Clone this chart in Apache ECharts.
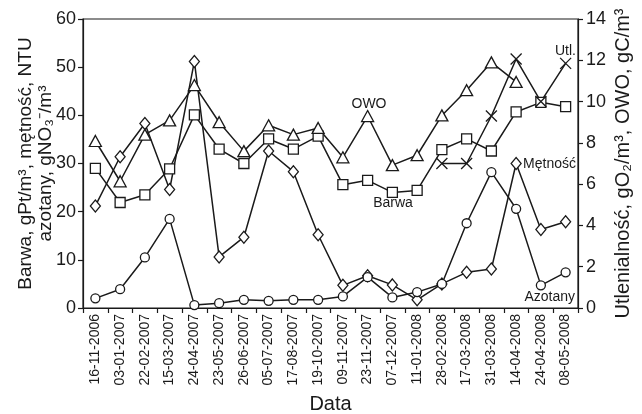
<!DOCTYPE html>
<html>
<head>
<meta charset="utf-8">
<script src="https://cdn.jsdelivr.net/npm/echarts@6/dist/echarts.min.js"></script>
<style>html,body{margin:0;padding:0;background:#fff}#c{width:642px;height:414px}</style>
</head>
<body>
<div id="c"></div>
<script>
var dates = ['16-11-2006','03-01-2007','22-02-2007','15-03-2007','24-04-2007','23-05-2007','26-06-2007','05-07-2007','17-08-2007','19-10-2007','09-11-2007','23-11-2007','07-12-2007','11-01-2008','28-02-2008','17-03-2008','31-03-2008','14-04-2008','24-04-2008','08-05-2008'];
var barwa = [29.0, 21.9, 23.5, 28.9, 40.1, 33.0, 30.0, 35.1, 33.0, 35.7, 25.6, 26.5, 24.0, 24.4, 32.9, 35.1, 32.6, 40.7, 42.7, 41.8];
var metnosc = [21.2, 31.4, 38.3, 24.6, 51.2, 10.6, 14.7, 32.6, 28.3, 15.2, 4.7, 6.7, 4.8, 1.7, 5.0, 7.4, 8.1, 30.0, 16.3, 17.9];
var azotany = [2.0, 3.9, 10.5, 18.5, 0.6, 1.0, 1.7, 1.5, 1.7, 1.7, 2.4, 6.4, 2.2, 3.3, 5.0, 17.6, 28.2, 20.6, 4.7, 7.4];
var owo = [8.09, 6.14, 8.4, 9.09, 10.8, 9.0, 7.6, 8.85, 8.4, 8.72, 7.3, 9.3, 6.92, 7.4, 9.33, 10.55, 11.9, 10.95, null, null];
var utl = [null, null, null, null, null, null, null, null, null, null, null, null, null, null, 7.0, 7.0, 9.3, 12.06, 10.0, 11.85];
var leftTicks = [0, 60, 10];
var rightTicks = [0, 14, 2];

var INK = '#1a1a1a';
var FONT = '"Liberation Sans", Arial, sans-serif';

function mkSeries(name, data, yIdx, symbol, size) {
  return {
    name: name, type: 'line', data: data, yAxisIndex: yIdx,
    symbol: symbol, symbolSize: size, showSymbol: true,
    lineStyle: { color: INK, width: 1.5 },
    itemStyle: { color: '#fff', borderColor: INK, borderWidth: 1.3 },
    connectNulls: false, animation: false, z: 3
  };
}

var chart = echarts.init(document.getElementById('c'), null, { renderer: 'canvas' });
chart.setOption({
  animation: false,
  backgroundColor: '#fff',
  textStyle: { fontFamily: FONT, color: INK },
  grid: { left: 83, right: 64, top: 19, bottom: 106, containLabel: false, outerBoundsMode: 'none', show: true, borderColor: INK, borderWidth: 1.2, backgroundColor: 'transparent' },
  xAxis: {
    type: 'category', data: dates, boundaryGap: true,
    name: 'Data', nameLocation: 'middle', nameGap: 86, nameMoveOverlap: false,
    nameTextStyle: { fontSize: 20, color: INK, fontFamily: FONT },
    axisLine: { lineStyle: { color: INK, width: 1.2 } },
    axisTick: { show: true, inside: false, length: 5, lineStyle: { color: INK, width: 1.2 } },
    axisLabel: { rotate: 90, fontSize: 14, color: INK, fontFamily: FONT, margin: 6, interval: 0 },
    splitLine: { show: false }
  },
  yAxis: [
    {
      type: 'value', min: leftTicks[0], max: leftTicks[1], interval: leftTicks[2], position: 'left',
      name: 'Barwa, gPt/m³, mętność, NTU\nazotany, gNO₃⁻/m³', nameLocation: 'middle', nameRotate: 90, nameGap: 27, nameMoveOverlap: false,
      nameTextStyle: { fontSize: 19, color: INK, fontFamily: FONT, lineHeight: 20 },
      axisLine: { show: true, lineStyle: { color: INK, width: 1.2 } },
      axisTick: { show: true, length: 5, lineStyle: { color: INK, width: 1.2 } },
      axisLabel: { fontSize: 18, color: INK, fontFamily: FONT, margin: 7 },
      splitLine: { show: false }
    },
    {
      type: 'value', min: rightTicks[0], max: rightTicks[1], interval: rightTicks[2], position: 'right',
      name: 'Utlenialność, gO₂/m³, OWO, gC/m³', nameLocation: 'middle', nameRotate: 90, nameGap: 35, nameMoveOverlap: false,
      nameTextStyle: { fontSize: 20, color: INK, fontFamily: FONT },
      axisLine: { show: true, lineStyle: { color: INK, width: 1.2 } },
      axisTick: { show: true, length: 5, lineStyle: { color: INK, width: 1.2 } },
      axisLabel: { fontSize: 18, color: INK, fontFamily: FONT, margin: 8 },
      splitLine: { show: false }
    }
  ],
  series: [
    mkSeries('Barwa', barwa, 0, 'rect', 10),
    mkSeries('Mętność', metnosc, 0, 'diamond', [10, 12]),
    mkSeries('Azotany', azotany, 0, 'circle', 9),
    mkSeries('OWO', owo, 1, 'triangle', [12, 11]),
    mkSeries('Utl.', utl, 1, 'path://M0,0L1,1M1,0L0,1', 11)
  ],
  graphic: [
    { type: 'text', z: 100, x: 369, y: 104, style: { text: 'OWO', font: '14px ' + FONT, fill: INK, align: 'center', verticalAlign: 'middle' } },
    { type: 'text', z: 100, x: 393, y: 203, style: { text: 'Barwa', font: '14px ' + FONT, fill: INK, align: 'center', verticalAlign: 'middle' } },
    { type: 'text', z: 100, x: 576, y: 164, style: { text: 'Mętność', font: '14px ' + FONT, fill: INK, align: 'right', verticalAlign: 'middle' } },
    { type: 'text', z: 100, x: 575, y: 297, style: { text: 'Azotany', font: '14px ' + FONT, fill: INK, align: 'right', verticalAlign: 'middle' } },
    { type: 'text', z: 100, x: 576, y: 51, style: { text: 'Utl.', font: '14px ' + FONT, fill: INK, align: 'right', verticalAlign: 'middle' } }
  ]
});
</script>
</body>
</html>
